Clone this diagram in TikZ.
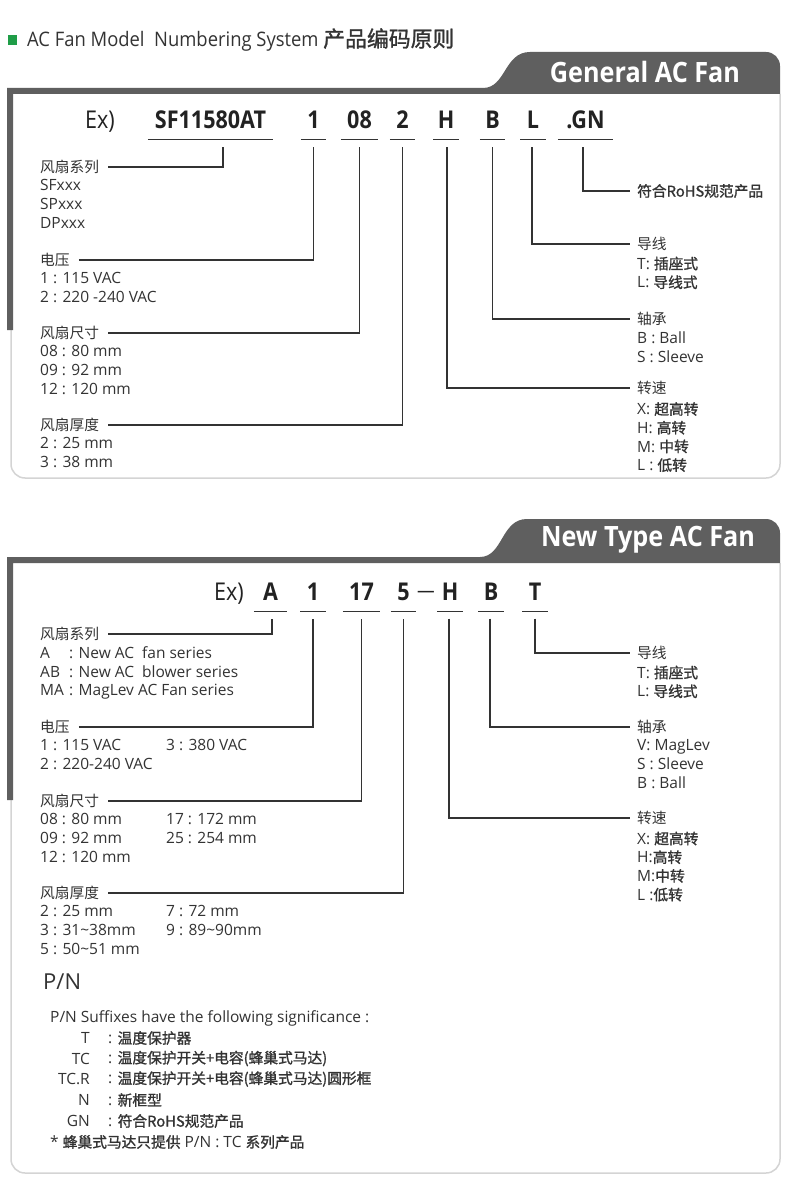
\documentclass[tikz,border=0pt]{standalone}
\usepackage{fontspec}
\setmainfont{Open Sans}
\newfontfamily\cjk[Scale=0.95]{Noto Sans CJK SC}
\newfontfamily\cjkb[Scale=0.95,FakeBold=1.2]{Noto Sans CJK SC}
\newfontfamily\codefont[FakeStretch=0.88]{Open Sans}
\newfontfamily\tabfont[FakeStretch=0.9]{Open Sans}
\newfontfamily\titlefont[FakeStretch=0.92]{Open Sans}
\usetikzlibrary{positioning}

\definecolor{tabgray}{HTML}{5F5F5F}
\definecolor{rimgray}{HTML}{D4D4D4}
\definecolor{ink}{HTML}{333333}
\definecolor{codeink}{HTML}{222222}
\definecolor{bulletgreen}{HTML}{1F9D48}

\tikzset{
  lbl/.style={font=\fontsize{15.5}{18.7}\selectfont, text=ink, inner sep=0pt, anchor=west},
  items/.style={lbl, anchor=north west, align=left},
  code/.style={font=\codefont\bfseries\fontsize{24.5}{25}\selectfont, text=codeink,
    inner xsep=4.5pt, inner ysep=0pt, text depth=0pt, minimum width=25pt, anchor=base},
  exlbl/.style={code, font=\codefont\fontsize{24.5}{25}\selectfont},
  wire/.style={draw=ink, line width=1.4pt},
  rim/.style={draw=rimgray, line width=1.5pt, rounded corners=14pt},
  tabtext/.style={text=white, font=\tabfont\bfseries\fontsize{28}{30}\selectfont}
}

\begin{document}
\begin{tikzpicture}[x=1pt,y=-1pt]
\useasboundingbox (0,0) rectangle (790,1182);
\fill[white] (0,0) rectangle (790,1182);

% Titel
\fill[bulletgreen] (8,35) rectangle (17,45);
\node[anchor=west, inner sep=0pt, text=ink] (title) at (27,40)
  {\titlefont\fontsize{20}{22}\selectfont AC Fan Model\ \ Numbering System {\cjkb\fontsize{23}{24}\selectfont 产品编码原则}};

% Kader: General AC Fan
\draw[rim] (11,94) -- (11,478) -- (780,478) -- (780,94);
\fill[tabgray] (7,88) -- (483,88) .. controls (506,88) and (504,52) .. (530,52) -- (766,52)
  arc[start angle=-90, end angle=0, radius=14] -- (780,94) -- (13,94) -- (13,330) -- (7,330) -- cycle;
\node[tabtext] (tab1) at (645,72) {General AC Fan};

% Codeletters
\node[exlbl] (ex1) at (100,128.5) {Ex)};
\node[code, minimum width=125pt] (cSF) at (210.5,128.5) {SF11580AT};
\node[code] (c1) at (313.5,128.5) {1};
\node[code, minimum width=37pt] (c08) at (359.5,128.5) {08};
\node[code] (c2) at (402.5,128.5) {2};
\node[code] (cH) at (446,128.5) {H};
\node[code] (cB) at (492.5,128.5) {B};
\node[code] (cL) at (533,128.5) {L};
\node[code, minimum width=55pt] (cGN) at (585.5,128.5) {.GN};
\foreach \c in {cSF,c1,c08,c2,cH,cB,cL,cGN}
  \draw[wire] ([yshift=-11pt]\c.south west) -- ([yshift=-11pt]\c.south east);

% Links: serie, spanning, maat, dikte
\node[lbl] (hSer) at (40,167) {\cjk 风扇系列};
\node[items] (iSer) at (40,179.5) {SFxxx\\SPxxx\\DPxxx};
\node[lbl] (hVolt) at (40,260) {\cjk 电压};
\node[items] (iVolt) at (40,272.5) {1 : 115 VAC\\2 : 220 -240 VAC};
\node[lbl] (hSize) at (40,333) {\cjk 风扇尺寸};
\node[items] (iSize) at (40,345.5) {08 : 80 mm\\09 : 92 mm\\12 : 120 mm};
\node[lbl] (hThick) at (40,425) {\cjk 风扇厚度};
\node[items] (iThick) at (40,437.5) {2 : 25 mm\\3 : 38 mm};

\draw[wire] ([xshift=9pt]hSer.east) -| ([xshift=12.5pt,yshift=-18.5pt]cSF.south);
\draw[wire] ([xshift=9pt]hVolt.east) -| ([yshift=-18.5pt]c1.south);
\draw[wire] ([xshift=9pt]hSize.east) -| ([yshift=-18.5pt]c08.south);
\draw[wire] ([xshift=9pt]hThick.east) -| ([yshift=-18.5pt]c2.south);

% Rechts: RoHS, draad, lager, toerental
\node[lbl] (rGN) at (637,191) {\cjkb 符合RoHS规范产品};
\node[lbl] (rL) at (637,244) {\cjk 导线};
\node[items] (iL) at (637,256.5) {T: {\cjkb 插座式}\\L: {\cjkb 导线式}};
\node[lbl] (rB) at (637,319) {\cjk 轴承};
\node[items] (iB) at (637,331.5) {B : Ball\\S : Sleeve};
\node[lbl] (rH) at (637,388) {\cjk 转速};
\node[items] (iH) at (637,402) {X: {\cjkb 超高转}\\H: {\cjkb 高转}\\M: {\cjkb 中转}\\L : {\cjkb 低转}};

\draw[wire] ([xshift=-2.5pt,yshift=-18.5pt]cGN.south) |- ([xshift=-7pt]rGN.west);
\draw[wire] ([xshift=-1pt,yshift=-18.5pt]cL.south) |- ([xshift=-7pt]rL.west);
\draw[wire] ([yshift=-18.5pt]cB.south) |- ([xshift=-7pt]rB.west);
\draw[wire] ([xshift=1pt,yshift=-18.5pt]cH.south) |- ([xshift=-7pt]rH.west);

% Kader: New Type AC Fan
\draw[rim] (11,563) -- (11,1173) -- (780,1173) -- (780,563);
\fill[tabgray] (7,557) -- (480,557) .. controls (503,557) and (501,519) .. (527,519) -- (766,519)
  arc[start angle=-90, end angle=0, radius=14] -- (780,563) -- (13,563) -- (13,800) -- (7,800) -- cycle;
\node[tabtext] (tab2) at (648,540) {New Type AC Fan};

\node[exlbl] (ex2) at (229,600) {Ex)};
\node[code, minimum width=33pt] (cA) at (270.5,600) {A};
\node[code] (c1b) at (313,600) {1};
\node[code, minimum width=37pt] (c17) at (361.5,600) {17};
\node[code] (c5) at (403.5,600) {5};
\node[anchor=base, inner sep=0pt, text=codeink, font=\codefont\fontsize{20}{20}\selectfont] (dash) at (426,597) {—};
\node[code] (cH2) at (450,600) {H};
\node[code] (cB2) at (491,600) {B};
\node[code] (cT2) at (535,600) {T};
\foreach \c in {cA,c1b,c17,c5,cH2,cB2,cT2}
  \draw[wire] ([yshift=-11pt]\c.south west) -- ([yshift=-11pt]\c.south east);

\node[lbl] (hSer2) at (40,634) {\cjk 风扇系列};
\node[items] (iSer2) at (40,646.5) {\makebox[29pt][l]{A}: New AC\ \ fan series\\
  \makebox[29pt][l]{AB}: New AC\ \ blower series\\\makebox[29pt][l]{MA}: MagLev AC Fan series};
\node[lbl] (hVolt2) at (40,727) {\cjk 电压};
\node[items] (iVolt2) at (40,739.5) {\makebox[126pt][l]{1 : 115 VAC}3 : 380 VAC\\2 : 220-240 VAC};
\node[lbl] (hSize2) at (40,801) {\cjk 风扇尺寸};
\node[items] (iSize2) at (40,813.5) {\makebox[126pt][l]{08 : 80 mm}17 : 172 mm\\
  \makebox[126pt][l]{09 : 92 mm}25 : 254 mm\\12 : 120 mm};
\node[lbl] (hThick2) at (40,893) {\cjk 风扇厚度};
\node[items] (iThick2) at (40,905.5) {\makebox[126pt][l]{2 : 25 mm}7 : 72 mm\\
  \makebox[126pt][l]{3 : 31\textasciitilde38mm}9 : 89\textasciitilde90mm\\5 : 50\textasciitilde51 mm};

\draw[wire] ([xshift=9pt]hSer2.east) -| ([xshift=1.5pt,yshift=-18.5pt]cA.south);
\draw[wire] ([xshift=9pt]hVolt2.east) -| ([yshift=-18.5pt]c1b.south);
\draw[wire] ([xshift=9pt]hSize2.east) -| ([yshift=-18.5pt]c17.south);
\draw[wire] ([xshift=9pt]hThick2.east) -| ([yshift=-18.5pt]c5.south);

\node[lbl] (rT2) at (637,653) {\cjk 导线};
\node[items] (iT2) at (637,665.5) {T: {\cjkb 插座式}\\L: {\cjkb 导线式}};
\node[lbl] (rB2) at (637,727) {\cjk 轴承};
\node[items] (iB2) at (637,739.5) {V: MagLev\\S : Sleeve\\B : Ball};
\node[lbl] (rH2) at (637,818) {\cjk 转速};
\node[items] (iH2) at (637,831.5) {X: {\cjkb 超高转}\\H:{\cjkb 高转}\\M:{\cjkb 中转}\\L :{\cjkb 低转}};

\draw[wire] ([yshift=-18.5pt]cT2.south) |- ([xshift=-7pt]rT2.west);
\draw[wire] ([xshift=-1pt,yshift=-18.5pt]cB2.south) |- ([xshift=-7pt]rB2.west);
\draw[wire] ([xshift=-1pt,yshift=-18.5pt]cH2.south) |- ([xshift=-7pt]rH2.west);

% P/N achtervoegsels
\node[anchor=west, inner sep=0pt, text=ink, font=\fontsize{22}{24}\selectfont] (pn) at (43,982) {P/N};
\node[lbl] (sfx) at (50,1018) {P/N Suffixes have the following significance :};
\foreach \k/\v/\y in {T/温度保护器/1038, TC/温度保护开关+电容(蜂巢式马达)/1058.5,
    TC.R/温度保护开关+电容(蜂巢式马达)圆形框/1079, N/新框型/1100, GN/符合RoHS规范产品/1121} {
  \node[lbl, anchor=east] (k\y) at (90,\y) {\k};
  \node[lbl] (v\y) at (108,\y) {: {\cjkb \v}};
}
\node[lbl] (note) at (50,1142) {* {\cjkb 蜂巢式马达只提供} P/N : TC {\cjkb 系列产品}};
\end{tikzpicture}
\end{document}
